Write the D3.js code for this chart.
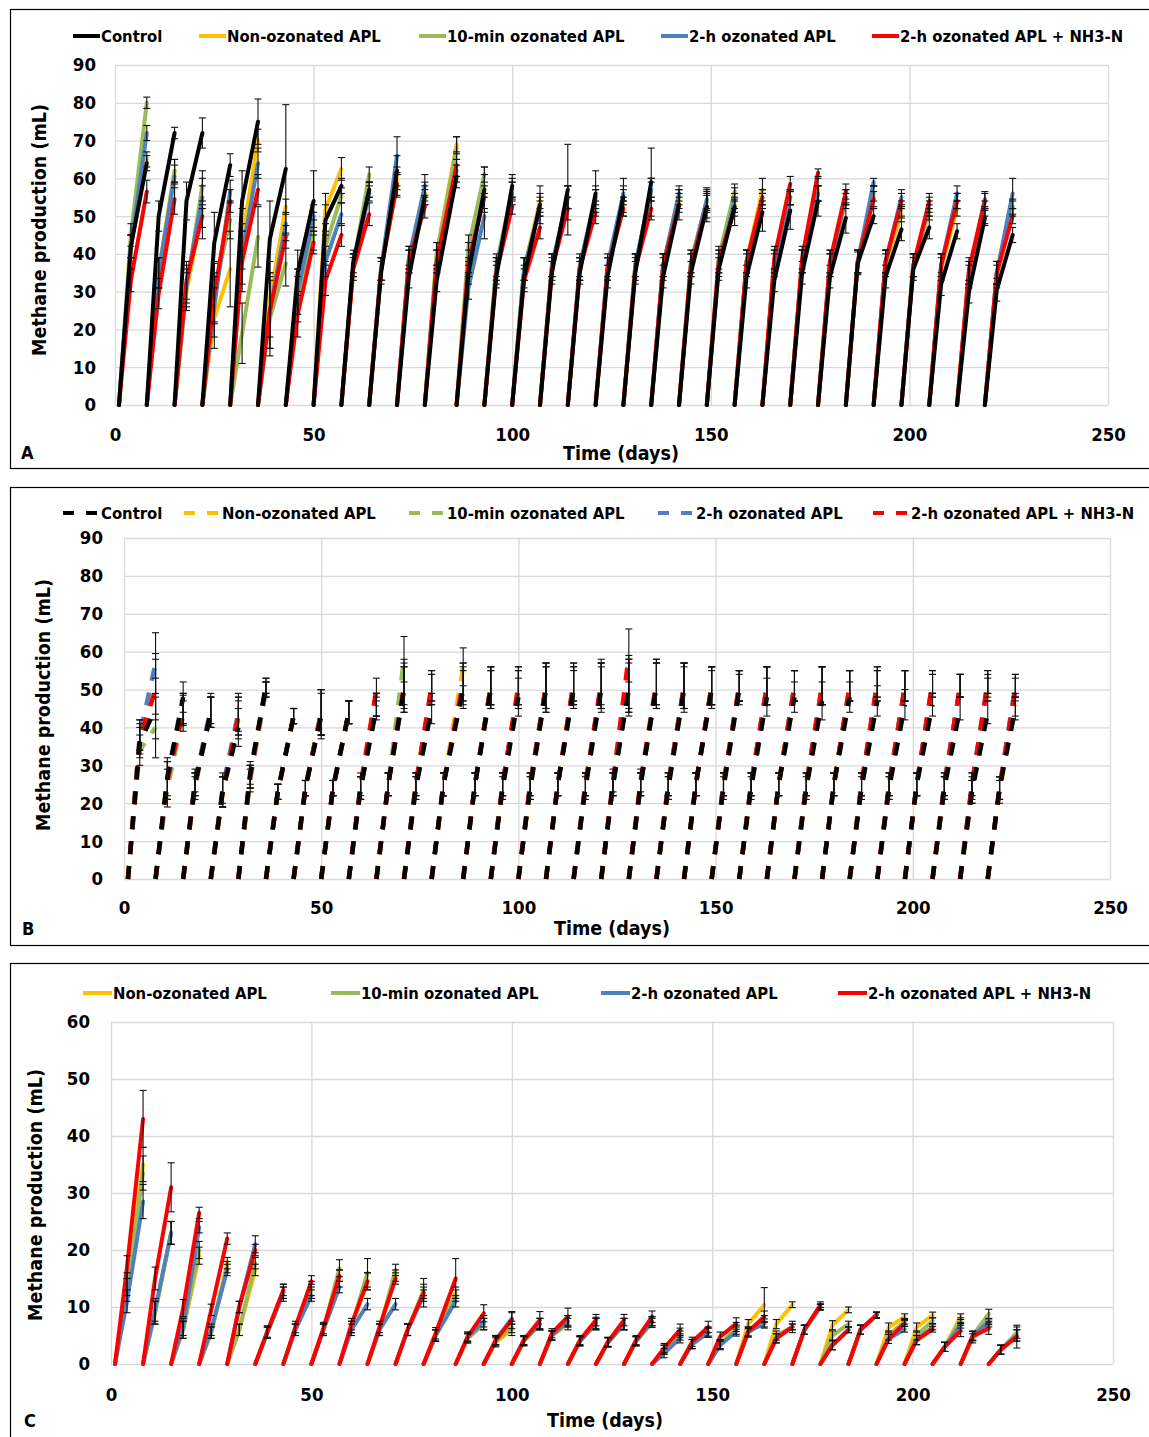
<!DOCTYPE html>
<html><head><meta charset="utf-8">
<script src="https://cdn.jsdelivr.net/npm/d3@7"></script>
<style>
body{margin:0;background:#fff;}
svg text{font-family:"Liberation Sans Narrow","Arial Narrow","DejaVu Sans Condensed",sans-serif;font-weight:bold;fill:#000;}
</style></head><body>
<svg id="fig" width="1149" height="1437"></svg>
<script>
// Feeding cycles: each cycle starts at 0 mL, with readings at the start, day 3 and the end.
const cycleStart = [1,8,15,22,29,36,43,50,57,64,71,78,86,93,100,107,114,121,128,135,142,149,156,163,170,177,184,191,198,205,212,219];
const cycleMid   = [4,11,18,25,32,39,46,53,60,67,74,81,89,96,103,110,117,124,131,138,145,152,159,166,173,180,187,194,201,208,215,222];
const cycleEnd   = [8,15,22,29,36,43,50,57,64,71,78,86,93,100,107,114,121,128,135,142,149,156,163,170,177,184,191,198,205,212,219,226];

const xTicks = [0,50,100,150,200,250];
const yTicksAB = [0,10,20,30,40,50,60,70,80,90];
const yTicksC = [0,10,20,30,40,50,60];

// ---- Panel A ----
const aControlMid = [42,50,54,43,54,44,35,49,38,35,34,33,35,34,34,35,35,34,35,34,35,36,34,33,35,34,37.5,34,36,32,30,30.5];
const aControlEnd = [64,72,72,63.5,75,62.5,54,58,57,62,55,60.5,57,58,53,57,56,55,59,53,52.5,52.5,51,51.5,54,49.5,50,46.5,47,46,49.5,45];
const aControlErr = [2,1.5,4,3,6,17,8,2,2,4,2,3,6,3,5,12,6,5,9,4,4,5,5,5,4,4,2,3,3,2,2,2];
const aRawMid = [42,35,30,23,44,28,30,52,37,36,39,40,40,36,36,37,36,36,37,36,38,38,38,38,38,37,38,37,37,36,34,34];
const aRawEnd = [65,62,52,36,70,52.5,48,62.5,57,60,56,69,58,57,54,55,54,55,57,54,54,53,57,55,57,54,55,50.5,51,52,50,52];
const aRawErr = [2,3,8,10,3,2,3,3,2,3,3,2,3,3,2,3,3,2,3,2,2,2,3,2,3,2,3,2,2,2,2,2];
const a10Mid = [45,35,31,30,19,23,28,42,37,36,38,40,42,37,36,37,36,36,37,37,38,39,38,38,38,38,38,38,37,37,35,35];
const a10End = [80,62,58,49,44.5,37.5,45,55.5,61,58,56,68,61,57,53,55,55,53,57,55,54,56.5,55,55,56,55,56,52,52,54,52,52.5];
const a10Err = [1.5,3,4,5,8,6,4,2,2,3,2,3,2,2,2,3,2,2,2,2,3,2,2,2,2,2,2,2,2,2,2,2];
const a2hMid = [42,35,32,26,40,25,30,38,37,36,39,38,31,36,36,37,37,37,37,37,37,37,37,37,38,37,38,38,37,37,35,35];
const a2hEnd = [72,60.5,55,56.5,64,48,50,50.5,56,66,58,62,50,56,52,55,55,56,57,56,54.5,54,54,55,56,55,59,55,53,56,54.5,56];
const a2hErr = [2,3,3,3,4,3,3,3,2,5,3,3,6,3,2,3,3,2,3,2,3,2,2,2,2,2,1,2,2,2,2,4];
const aNMid = [33,29.5,33,29.5,38,25,24,33,36,36,38,38,38,35,33,36,36,36,36,37,37,38,38,39,39,38,38,38,37,37,36,35];
const aNEnd = [56.5,54.5,50,54,57,44.5,43,45,50.5,58.5,52.5,63.5,55,52.5,47,52,51,52,52,53,52.5,52,55,58.5,61.5,56.5,54.5,54,54,54,54,50];
const aNErr = [3,4,3,3,4,3,3,3,3,3,3,3,3,2,3,3,3,2,3,2,3,2,2,2,1,2,2,2,2,2,2,2];
const aMidErr = [3,4,5,8,8,10,6,4,3,3,3,3,3,3,3,3,3,3,3,3,3,3,3,3,3,3,3,3,3,3,3,3];

// ---- Panel B ----
const bControlMid = [36,27,25,23,28,23,24,24,24,25,24,25,25,24,24,25,24,25,25,24,25,24,24,25,24,25,24,24,25,24,23,24];
const bControlEnd = [45,48,44,40,51,43,43,44,45,50,45,50,50,48,50,50,50,50,51,50,50,50,48,48,47,48,47,46,46,45,44,45];
const bRawMid = [38,26,25,23,27,23,24,24,24,25,24,25,25,25,24,25,25,25,25,24,25,25,25,25,25,25,25,24,25,24,23,23];
const bRawEnd = [51.5,45,44,42,50,43,44,44,46,52,50,56,50,50,50,51,51,51,52,51,51,51,51,51,51,51,51,51,51,51,50,46];
const b10Mid = [34,24,24,23,26,23,24,24,24,25,25,25,25,25,25,25,25,25,25,25,25,25,25,25,25,25,25,25,25,24,24,24];
const b10End = [40,43,44,43,50,43,44,44,46,58,51,52,51,51,51,52,51,52,51,51,51,51,51,51,51,51,51,51,51,51,51,51];
const b2hMid = [38,26,26,24,27,23,24,24,24,25,25,25,25,25,25,25,25,25,25,25,25,25,25,25,25,25,25,25,25,25,25,24];
const b2hEnd = [57,45,45,44,50,43,44,44,46,50,50,51,51,50,51,51,51,51,51,51,51,51,51,51,51,51,52,51,52,51,52,51];
const bNMid = [37,26,25,23,27,23,24,24,25,25,25,25,25,25,25,25,25,26,26,25,25,25,25,25,25,25,25,25,25,25,25,24];
const bNEnd = [50,44.5,44,43,51,43,44,44,50,51,51,52,51,51,51,52,52,59,52,51,51,51,51,51,51,51,52,51,52,51,52,50];
const bEndErr = [8,4,4,5,2,2,6,3,3,6,4,5,5,5,6,5,6,7,6,6,5,4,5,4,5,4,4,4,3,3,3,3];
const bMidErr = [4,5,3,4,3,2,2,2,3,3,3,3,3,3,3,3,3,3,3,3,3,3,3,3,3,3,3,3,3,3,3,3];

// ---- Panel C ----
const cRawMid = [14,9,6,5.5,6,5.5,6,6,6.5,6,6,5,4.5,3.8,4,5,4,3.8,4,2.5,3.5,3.5,7,7,6,6.8,6,6.4,6.4,3,4.5,2.5];
const cRawEnd = [35,23,19,17.7,16.5,12.5,13,15,14.5,15.5,12.5,12.5,7,6,7,7,7,7,7.2,5.5,5.7,6.5,10.4,10.4,10,9.5,8.5,8.3,8.6,8.3,7,5];
const cRawErr = [3,2,1.5,1,1,1,1,1.5,1.5,1,1,1,1,1,1,1,1,1,0.8,0.8,0.8,0.8,3,0.5,0.5,0.5,0.5,0.5,0.5,0.5,0.5,1];
const c10Mid = [13,9,6,5.5,6,5.5,6,6,6.5,6,6,5,4.5,4,4,5,4,3.8,4,2.5,3.5,3.5,5.5,5,6,5,6,5,5,3,5,2.5];
const c10End = [33.5,23,20,17,17.7,12.5,13,16.8,16,16.5,13,12,7,6.5,7,7.5,7,7,7.5,5,5.5,6,7.5,6.5,10,7,8.6,7.5,7.6,7.6,8.8,5.5];
const c10Err = [3,2,1.5,1,1,1.5,1.5,1.5,2.5,1,1,1,1,1,1,1,1,1,0.8,0.8,0.8,0.8,1,0.5,0.5,0.5,0.5,0.5,0.5,0.5,0.8,1];
const c2hMid = [11,9.5,6.5,6,10,5.5,6,6,6,6,6,5,4.8,4.2,4.2,5,4,3.8,4,1.9,3.5,3.3,5.7,4.5,6,3.3,6,4.4,4.2,3,4.9,2.5];
const c2hEnd = [28.5,23,24,16.5,21,12.5,12,13.5,10.5,10.5,12,11,7.5,8,7,7.5,7.2,7,7.5,4.5,5.5,5.7,7.1,6.5,10,6,8.6,6.1,6.5,6.8,7.4,5];
const c2hErr = [3,2,1,1,1.5,1,1,1,1,1,1,1,1,1,1,1,1,1,0.8,0.8,0.8,0.8,0.8,0.5,0.5,0.5,0.5,0.5,0.5,0.5,0.5,1];
const cNMid = [17,15,9.8,9.5,10,5.7,6.5,6.3,7,6.5,6,5.4,4.8,4.2,4.2,5.4,4.2,3.9,4.2,2.8,3.9,4.8,5.7,4.5,6,3.3,6,4.4,4.2,3,4.9,2.5];
const cNEnd = [43,31,26.5,22,20,13,14.5,15.5,14.5,15,12.5,15,8.9,7.7,7.7,8.3,7.7,7.7,8.3,6,6.5,7.1,8.3,6.5,10.4,6,8.6,7.1,6.1,5.8,6.2,4.8];
const cNErr = [5,4.3,1,1,1,1,1,1,1.5,1,2.5,3.5,1.5,1.5,1.5,1.5,1,1,1,1,1,1,1,1,0.5,0.5,0.5,0.5,0.5,1,1,2];
const cMidErr = [2,2,1.5,1,1,1,1,1,1,1,1,1,0.8,0.8,0.8,0.8,0.8,0.8,0.8,0.8,0.8,0.8,0.8,0.8,0.8,0.8,0.8,0.8,0.8,0.8,0.8,0.8];

const colors = {control:"#000000", raw:"#FFC000", ten:"#9BBB59", twoh:"#4F81BD", nh3:"#FF0000"};
const labels = {control:"Control", raw:"Non-ozonated APL", ten:"10-min ozonated APL", twoh:"2-h ozonated APL", nh3:"2-h ozonated APL + NH3-N"};

const svg = d3.select("#fig");

function panel(cfg){
  const g = svg.append("g");
  // outer frame
  g.append("rect").attr("x",10.5).attr("y",cfg.frameTop+0.5).attr("width",1160).attr("height",cfg.frameBottom-cfg.frameTop)
    .attr("fill","none").attr("stroke","#000").attr("stroke-width",1.2);

  const x = d3.scaleLinear().domain([0,250]).range(cfg.xr);
  const y = d3.scaleLinear().domain([0,cfg.ymax]).range(cfg.yr);

  // gridlines
  g.append("g").attr("transform",`translate(0,${cfg.yr[0]})`)
    .call(d3.axisBottom(x).tickValues(xTicks).tickSize(cfg.yr[1]-cfg.yr[0]).tickFormat(""))
    .call(a=>a.select(".domain").remove())
    .call(a=>a.selectAll("line").attr("stroke","#d9d9d9").attr("stroke-width",1.3));
  g.append("g").attr("transform",`translate(${cfg.xr[0]},0)`)
    .call(d3.axisRight(y).tickValues(cfg.yTicks).tickSize(cfg.xr[1]-cfg.xr[0]).tickFormat(""))
    .call(a=>a.select(".domain").remove())
    .call(a=>a.selectAll("line").attr("stroke","#d9d9d9").attr("stroke-width",1.3));

  // tick labels
  g.append("g").attr("transform",`translate(${cfg.ylabX},0)`)
    .call(d3.axisLeft(y).tickValues(cfg.yTicks).tickSize(0).tickPadding(0))
    .call(a=>a.select(".domain").remove())
    .call(a=>a.selectAll("text").attr("font-size",18.5).attr("fill","#000"));
  g.append("g").attr("transform",`translate(0,${cfg.xlabY})`)
    .call(d3.axisBottom(x).tickValues(xTicks).tickSize(0).tickPadding(0))
    .call(a=>a.select(".domain").remove())
    .call(a=>a.selectAll("text").attr("font-size",18.5).attr("fill","#000").attr("dy","0.35em"));

  g.append("text").attr("x",cfg.xTitle[0]).attr("y",cfg.xTitle[1]).attr("text-anchor","middle").attr("font-size",19.5).text("Time (days)");
  g.append("text").attr("transform",`translate(${cfg.yTitle[0]},${cfg.yTitle[1]}) rotate(-90)`).attr("text-anchor","middle").attr("font-size",19.5).text("Methane production (mL)");
  g.append("text").attr("x",cfg.letter[0]).attr("y",cfg.letter[1]).attr("font-size",18).text(cfg.letterText);

  // series lines
  const line = d3.line().defined(d=>d!==null).x(d=>x(d[0])).y(d=>y(d[1]));
  cfg.series.forEach(s=>{
    const pts = [];
    cycleStart.forEach((st,i)=>{
      pts.push([st,0],[cycleMid[i],s.mid[i]],[cycleEnd[i],s.end[i]]);
      pts.push(null);
    });
    g.append("path").attr("d",line(pts)).attr("fill","none").attr("stroke",colors[s.key])
      .attr("stroke-width",cfg.lw).attr("stroke-linejoin","round").attr("stroke-linecap",cfg.dash?"butt":"round")
      .attr("stroke-dasharray",cfg.dash||null);
  });

  // error bars
  const eb = g.append("g").attr("stroke","#111").attr("stroke-width",1.1);
  cfg.series.forEach(s=>{
    cycleStart.forEach((st,i)=>{
      const bars = [[cycleEnd[i],s.end[i],s.err[i]],[cycleMid[i],s.mid[i],cfg.midErr[i]]];
      bars.forEach(([dx,v,e])=>{
        const px = x(dx), y1 = y(v+e), y2 = y(Math.max(0,v-e));
        eb.append("line").attr("x1",px).attr("x2",px).attr("y1",y1).attr("y2",y2);
        eb.append("line").attr("x1",px-3.5).attr("x2",px+3.5).attr("y1",y1).attr("y2",y1);
        eb.append("line").attr("x1",px-3.5).attr("x2",px+3.5).attr("y1",y2).attr("y2",y2);
      });
    });
  });

  // legend
  cfg.legend.forEach(l=>{
    g.append("line").attr("x1",l.x).attr("x2",l.x+l.len).attr("y1",cfg.legendY).attr("y2",cfg.legendY)
      .attr("stroke",colors[l.key]).attr("stroke-width",4).attr("stroke-dasharray",cfg.dash?"11,12":null);
    g.append("text").attr("x",l.x+l.len+1).attr("y",cfg.legendY+6).attr("font-size",16.5).text(labels[l.key]);
  });
}

panel({
  frameTop:9, frameBottom:468, xr:[115,1108], yr:[405,65], ymax:90, yTicks:yTicksAB,
  ylabX:96, xlabY:435, xTitle:[621,460], yTitle:[46,230], letter:[21,459], letterText:"A",
  lw:4, dash:null, midErr:aMidErr, legendY:36,
  series:[
    {key:"raw", mid:aRawMid, end:aRawEnd, err:aRawErr},
    {key:"ten", mid:a10Mid, end:a10End, err:a10Err},
    {key:"twoh", mid:a2hMid, end:a2hEnd, err:a2hErr},
    {key:"nh3", mid:aNMid, end:aNEnd, err:aNErr},
    {key:"control", mid:aControlMid, end:aControlEnd, err:aControlErr}
  ],
  legend:[{key:"control",x:73,len:27},{key:"raw",x:199,len:27},{key:"ten",x:419,len:27},{key:"twoh",x:661,len:27},{key:"nh3",x:872,len:27}]
});

panel({
  frameTop:487, frameBottom:945, xr:[124,1110], yr:[879,538], ymax:90, yTicks:yTicksAB,
  ylabX:103, xlabY:908, xTitle:[612,935], yTitle:[50,705], letter:[22,935], letterText:"B",
  lw:4.5, dash:"13,12", midErr:bMidErr, legendY:513,
  series:[
    {key:"raw", mid:bRawMid, end:bRawEnd, err:bEndErr},
    {key:"ten", mid:b10Mid, end:b10End, err:bEndErr},
    {key:"twoh", mid:b2hMid, end:b2hEnd, err:bEndErr},
    {key:"nh3", mid:bNMid, end:bNEnd, err:bEndErr},
    {key:"control", mid:bControlMid, end:bControlEnd, err:bEndErr}
  ],
  legend:[{key:"control",x:63,len:37},{key:"raw",x:184,len:37},{key:"ten",x:409,len:37},{key:"twoh",x:658,len:37},{key:"nh3",x:873,len:37}]
});

panel({
  frameTop:963, frameBottom:1445, xr:[111,1113], yr:[1364,1022], ymax:60, yTicks:yTicksC,
  ylabX:90, xlabY:1395, xTitle:[605,1427], yTitle:[42,1195], letter:[24,1427], letterText:"C",
  lw:4, dash:null, midErr:cMidErr, legendY:993,
  series:[
    {key:"raw", mid:cRawMid, end:cRawEnd, err:cRawErr},
    {key:"ten", mid:c10Mid, end:c10End, err:c10Err},
    {key:"twoh", mid:c2hMid, end:c2hEnd, err:c2hErr},
    {key:"nh3", mid:cNMid, end:cNEnd, err:cNErr}
  ],
  legend:[{key:"raw",x:83,len:29},{key:"ten",x:331,len:29},{key:"twoh",x:601,len:29},{key:"nh3",x:838,len:29}]
});
</script>
</body></html>
